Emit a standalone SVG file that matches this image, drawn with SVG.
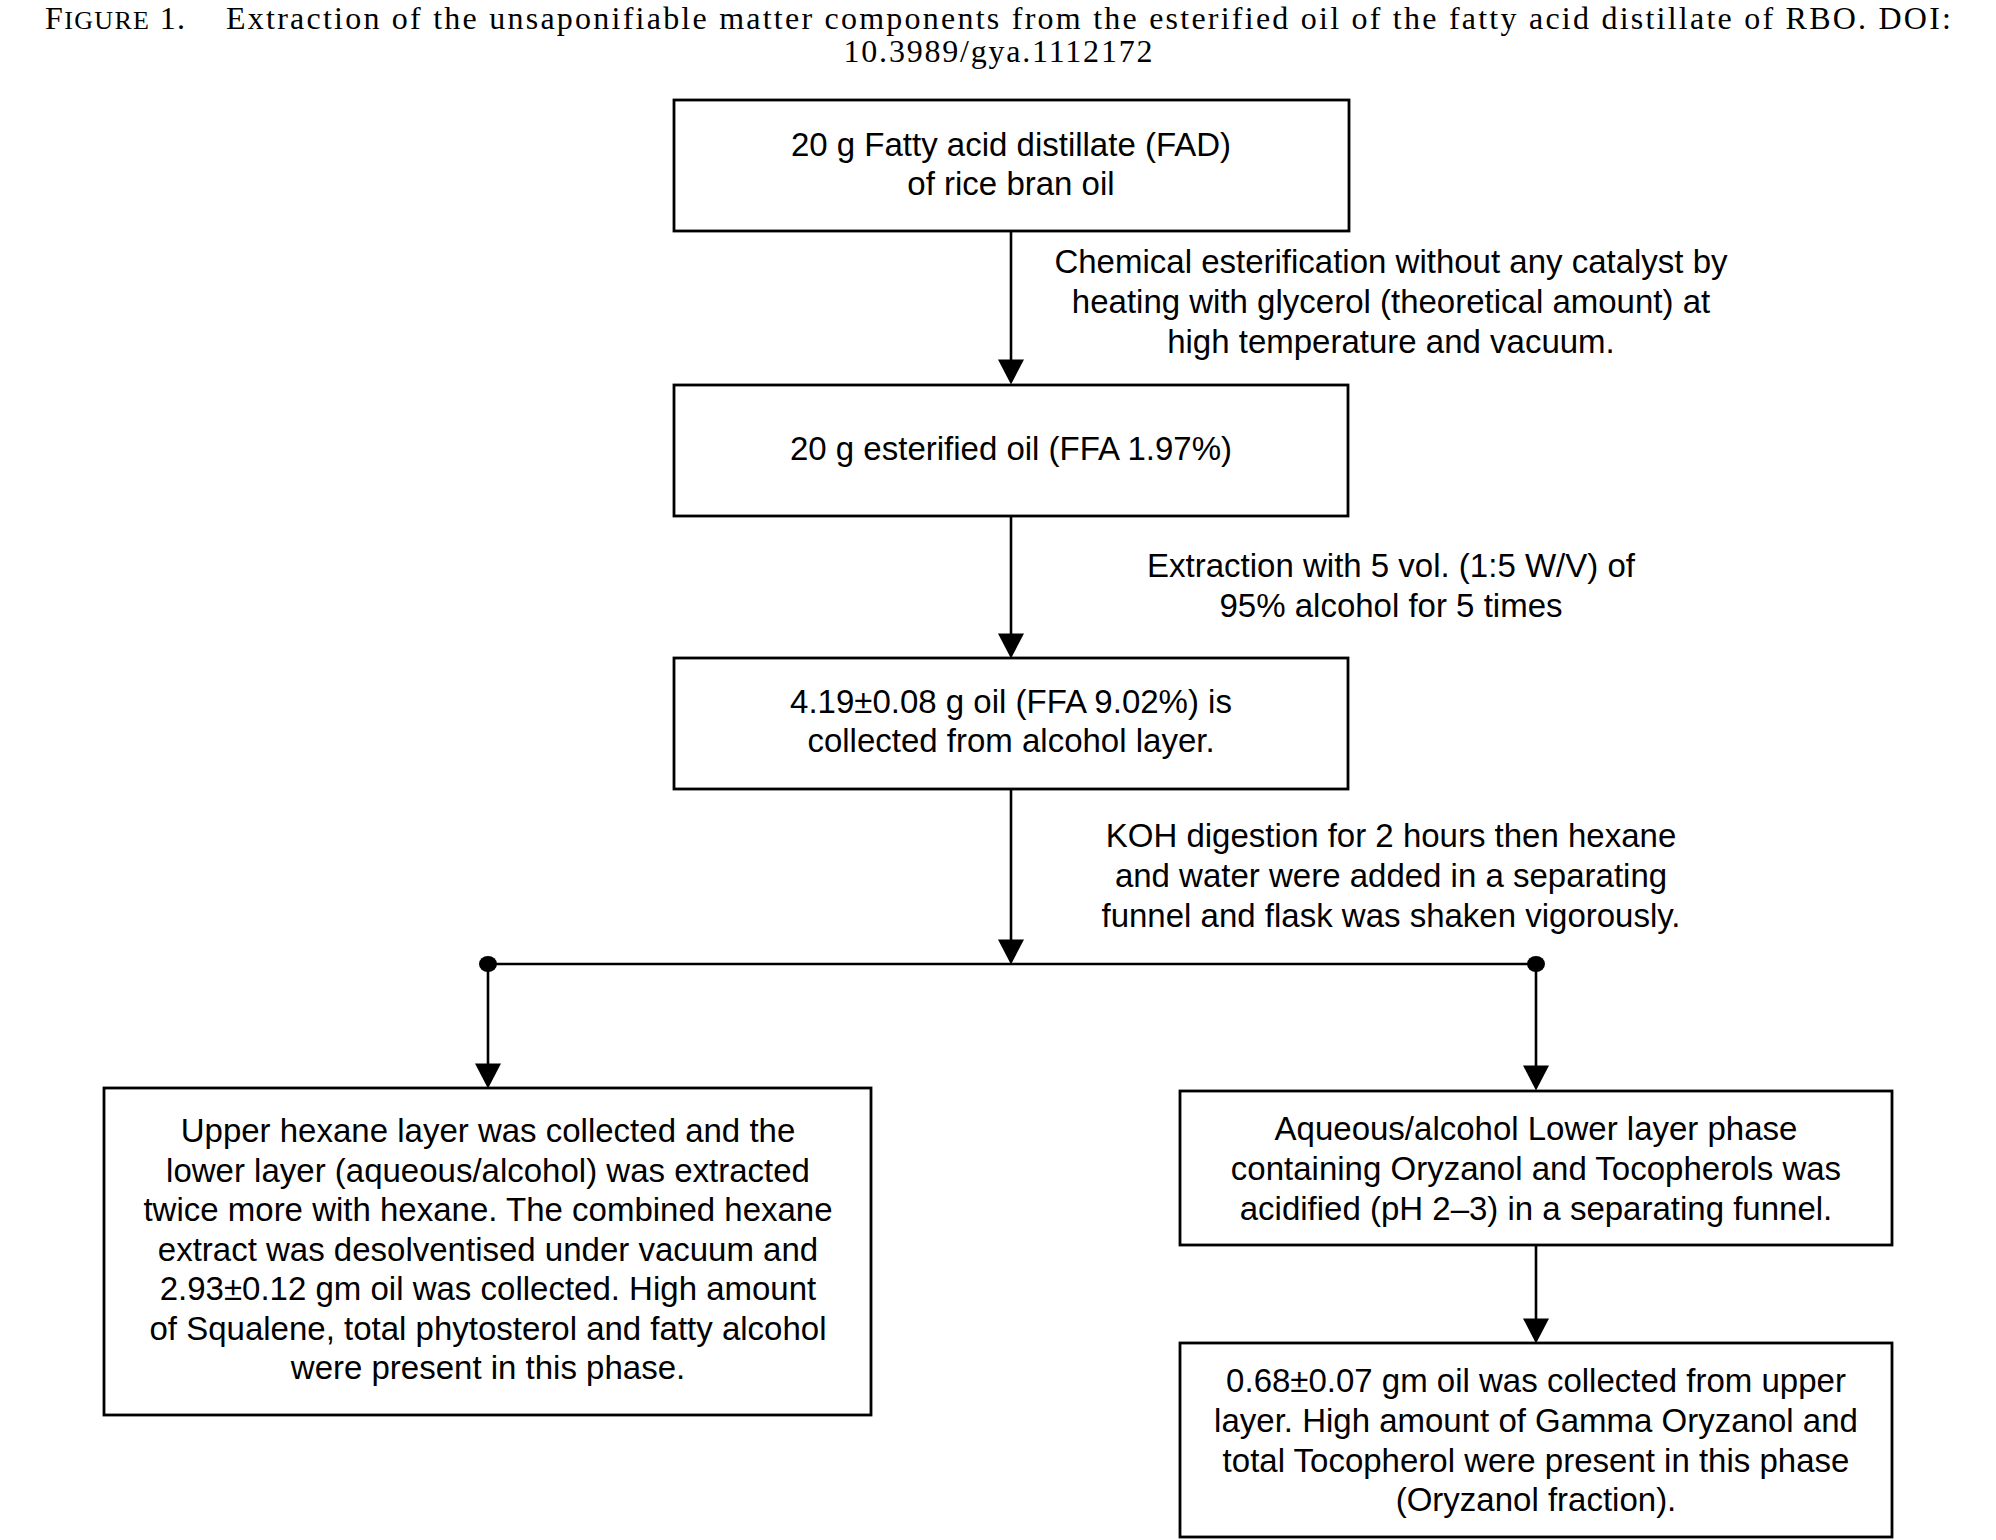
<svg xmlns="http://www.w3.org/2000/svg" width="1996" height="1540" viewBox="0 0 1996 1540">
<defs>
<marker id="arr" markerUnits="userSpaceOnUse" markerWidth="26" markerHeight="26" viewBox="0 0 24 25" refX="14" refY="12.5" orient="auto">
<path d="M0,0 L24,12.5 L0,25 z" fill="#000"/>
</marker>
</defs>
<style>
.box{fill:#fff;stroke:#000;stroke-width:2.8}
.t{font-family:"Liberation Sans",Arial,Helvetica,sans-serif;font-size:33px;fill:#000;text-anchor:middle}
.cap{font-family:"Liberation Serif","Times New Roman",serif;font-size:32px;fill:#000}
.ln{stroke:#000;stroke-width:2.6;fill:none}
</style>
<rect width="1996" height="1540" fill="#fff"/>
<g id="caption">
<text class="cap" x="45" y="29" textLength="140" lengthAdjust="spacing">F<tspan font-size="26">IGURE</tspan> 1.</text>
<text class="cap" x="226" y="29" textLength="1725" lengthAdjust="spacing">Extraction of the unsaponifiable matter components from the esterified oil of the fatty acid distillate of RBO. DOI:</text>
<text class="cap" x="998" y="62" text-anchor="middle" textLength="309" lengthAdjust="spacing">10.3989/gya.1112172</text>
</g>
<g id="connectors">
<line class="ln" x1="1011" y1="231" x2="1011" y2="374" marker-end="url(#arr)"/>
<line class="ln" x1="1011" y1="516" x2="1011" y2="648" marker-end="url(#arr)"/>
<line class="ln" x1="1011" y1="789" x2="1011" y2="954" marker-end="url(#arr)"/>
<line class="ln" x1="488" y1="964" x2="1536" y2="964"/>
<ellipse cx="488" cy="964" rx="9" ry="8" fill="#000"/>
<ellipse cx="1536" cy="964" rx="9" ry="8" fill="#000"/>
<line class="ln" x1="488" y1="964" x2="488" y2="1078" marker-end="url(#arr)"/>
<line class="ln" x1="1536" y1="964" x2="1536" y2="1080" marker-end="url(#arr)"/>
<line class="ln" x1="1536" y1="1245" x2="1536" y2="1333" marker-end="url(#arr)"/>
<g id="label-esterification">
<text class="t" x="1391" y="273">Chemical esterification without any catalyst by</text>
<text class="t" x="1391" y="313">heating with glycerol (theoretical amount) at</text>
<text class="t" x="1391" y="353">high temperature and vacuum.</text>
</g>
<g id="label-extraction">
<text class="t" x="1391" y="577">Extraction with 5 vol. (1:5 W/V) of</text>
<text class="t" x="1391" y="617">95% alcohol for 5 times</text>
</g>
<g id="label-koh">
<text class="t" x="1391" y="847">KOH digestion for 2 hours then hexane</text>
<text class="t" x="1391" y="887">and water were added in a separating</text>
<text class="t" x="1391" y="927">funnel and flask was shaken vigorously.</text>
</g>
</g>
<g id="node-fad">
<rect class="box" x="674" y="100" width="675" height="131"/>
<text class="t" x="1011" y="156">20 g Fatty acid distillate (FAD)</text>
<text class="t" x="1011" y="195">of rice bran oil</text>
</g>
<g id="node-esterified">
<rect class="box" x="674" y="385" width="674" height="131"/>
<text class="t" x="1011" y="460">20 g esterified oil (FFA 1.97%)</text>
</g>
<g id="node-alcohol">
<rect class="box" x="674" y="658" width="674" height="131"/>
<text class="t" x="1011" y="713">4.19±0.08 g oil (FFA 9.02%) is</text>
<text class="t" x="1011" y="752">collected from alcohol layer.</text>
</g>
<g id="node-hexane">
<rect class="box" x="104" y="1088" width="767" height="327"/>
<text class="t" x="488" y="1142">Upper hexane layer was collected and the</text>
<text class="t" x="488" y="1181.5">lower layer (aqueous/alcohol) was extracted</text>
<text class="t" x="488" y="1221">twice more with hexane. The combined hexane</text>
<text class="t" x="488" y="1260.5">extract was desolventised under vacuum and</text>
<text class="t" x="488" y="1300">2.93±0.12 gm oil was collected. High amount</text>
<text class="t" x="488" y="1339.5">of Squalene, total phytosterol and fatty alcohol</text>
<text class="t" x="488" y="1379">were present in this phase.</text>
</g>
<g id="node-aqueous">
<rect class="box" x="1180" y="1091" width="712" height="154"/>
<text class="t" x="1536" y="1140">Aqueous/alcohol Lower layer phase</text>
<text class="t" x="1536" y="1180">containing Oryzanol and Tocopherols was</text>
<text class="t" x="1536" y="1220">acidified (pH 2–3) in a separating funnel.</text>
</g>
<g id="node-oryzanol">
<rect class="box" x="1180" y="1343" width="712" height="194"/>
<text class="t" x="1536" y="1392">0.68±0.07 gm oil was collected from upper</text>
<text class="t" x="1536" y="1432">layer. High amount of Gamma Oryzanol and</text>
<text class="t" x="1536" y="1472">total Tocopherol were present in this phase</text>
<text class="t" x="1536" y="1511">(Oryzanol fraction).</text>
</g>
</svg>
